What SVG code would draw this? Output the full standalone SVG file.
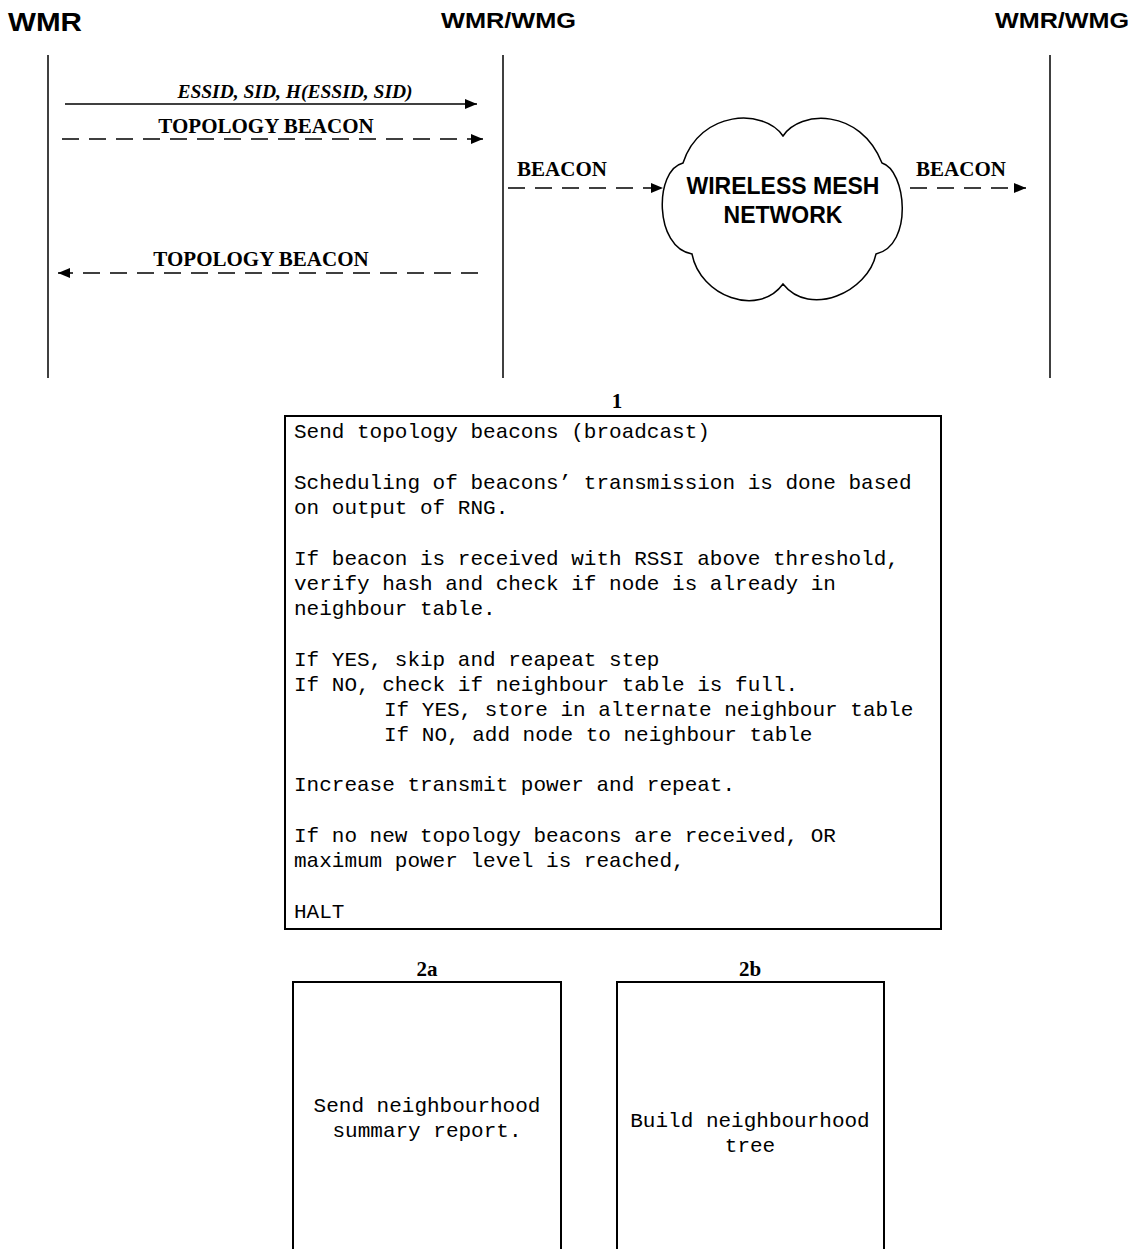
<svg xmlns="http://www.w3.org/2000/svg" width="1148" height="1249" viewBox="0 0 1148 1249">
  <style>
    .hdr { font-family: "Liberation Sans", Arial, sans-serif; font-weight: bold; fill: #000; }
    .life { stroke: #000; stroke-width: 1.5; fill: none; }
    .msg { stroke: #000; stroke-width: 1.5; fill: none; }
    .dash { stroke-dasharray: 17 10; }
    .lbl { font-family: "Liberation Serif", "Times New Roman", serif; font-weight: bold; font-size: 21px; fill: #000; }
    .lbli { font-family: "Liberation Serif", "Times New Roman", serif; font-weight: bold; font-style: italic; font-size: 19.5px; fill: #000; }
    .box { fill: #fff; stroke: #000; stroke-width: 2; }
    .mono { font-family: "Liberation Mono", "Courier New", monospace; font-size: 21px; fill: #000; }
    .mid { text-anchor: middle; }
    .cloudtxt { font-family: "Liberation Sans", Arial, sans-serif; font-weight: bold; font-size: 23px; fill: #000; text-anchor: middle; }
  </style>
  <defs>
    <marker id="arrow" viewBox="0 0 12 10" refX="12" refY="5" markerWidth="12" markerHeight="10" markerUnits="userSpaceOnUse" orient="auto">
      <path d="M0,0 L12,5 L0,10 z" fill="#000"/>
    </marker>
  </defs>

  <!-- participants -->
  <g id="wmr">
    <text class="hdr" x="8" y="31" font-size="26" textLength="74" lengthAdjust="spacingAndGlyphs">WMR</text>
    <line class="life" x1="48" y1="55" x2="48" y2="378"/>
  </g>
  <g id="wmr-wmg-1">
    <text class="hdr" x="441" y="28" font-size="22" textLength="135" lengthAdjust="spacingAndGlyphs">WMR/WMG</text>
    <line class="life" x1="503" y1="55" x2="503" y2="378"/>
  </g>
  <g id="wmr-wmg-2">
    <text class="hdr" x="995" y="28" font-size="22" textLength="134" lengthAdjust="spacingAndGlyphs">WMR/WMG</text>
    <line class="life" x1="1050" y1="55" x2="1050" y2="378"/>
  </g>

  <!-- mesh cloud -->
  <g id="mesh-cloud">
    <path d="M783,136 C800,110 860,108 882,163 C906,170 914,245 876,254 C868,292 810,318 783,284 C758,318 700,296 692,254 C654,248 654,170 683,163 C700,110 764,108 783,136 Z" fill="#fff" stroke="#000" stroke-width="1.5"/>
    <text class="cloudtxt" x="783" y="194">WIRELESS MESH</text>
    <text class="cloudtxt" x="783" y="223">NETWORK</text>
  </g>

  <!-- messages -->
  <g id="connectors">
    <line class="msg" x1="65" y1="104" x2="477" y2="104" marker-end="url(#arrow)"/>
    <text class="lbli mid" x="295" y="98">ESSID, SID, H(ESSID, SID)</text>

    <line class="msg dash" x1="62" y1="139" x2="483" y2="139" marker-end="url(#arrow)"/>
    <text class="lbl mid" x="266" y="133">TOPOLOGY BEACON</text>

    <line class="msg dash" x1="478" y1="273" x2="58" y2="273" marker-end="url(#arrow)"/>
    <text class="lbl mid" x="261" y="266">TOPOLOGY BEACON</text>

    <line class="msg dash" x1="508" y1="188" x2="663" y2="188" marker-end="url(#arrow)"/>
    <text class="lbl mid" x="562" y="176">BEACON</text>

    <line class="msg dash" x1="910" y1="188" x2="1026" y2="188" marker-end="url(#arrow)"/>
    <text class="lbl mid" x="961" y="176">BEACON</text>
  </g>

  <!-- step 1 -->
  <g id="step-1">
    <text class="lbl mid" x="617" y="408">1</text>
    <rect class="box" x="285" y="416" width="656" height="513" stroke-width="2.5"/>
    <text class="mono" x="294" y="438">Send topology beacons (broadcast)</text>
    <text class="mono" x="294" y="489">Scheduling of beacons’ transmission is done based</text>
    <text class="mono" x="294" y="514">on output of RNG.</text>
    <text class="mono" x="294" y="565">If beacon is received with RSSI above threshold,</text>
    <text class="mono" x="294" y="590">verify hash and check if node is already in</text>
    <text class="mono" x="294" y="615">neighbour table.</text>
    <text class="mono" x="294" y="666">If YES, skip and reapeat step</text>
    <text class="mono" x="294" y="691">If NO, check if neighbour table is full.</text>
    <text class="mono" x="384" y="716">If YES, store in alternate neighbour table</text>
    <text class="mono" x="384" y="741">If NO, add node to neighbour table</text>
    <text class="mono" x="294" y="791">Increase transmit power and repeat.</text>
    <text class="mono" x="294" y="842">If no new topology beacons are received, OR</text>
    <text class="mono" x="294" y="867">maximum power level is reached,</text>
    <text class="mono" x="294" y="918">HALT</text>
  </g>

  <!-- step 2a -->
  <g id="step-2a">
    <text class="lbl mid" x="427" y="976">2a</text>
    <rect class="box" x="293" y="982" width="268" height="290"/>
    <text class="mono mid" x="427" y="1112">Send neighbourhood</text>
    <text class="mono mid" x="427" y="1137">summary report.</text>
  </g>

  <!-- step 2b -->
  <g id="step-2b">
    <text class="lbl mid" x="750" y="976">2b</text>
    <rect class="box" x="617" y="982" width="267" height="290"/>
    <text class="mono mid" x="750" y="1127">Build neighbourhood</text>
    <text class="mono mid" x="750" y="1152">tree</text>
  </g>
</svg>
